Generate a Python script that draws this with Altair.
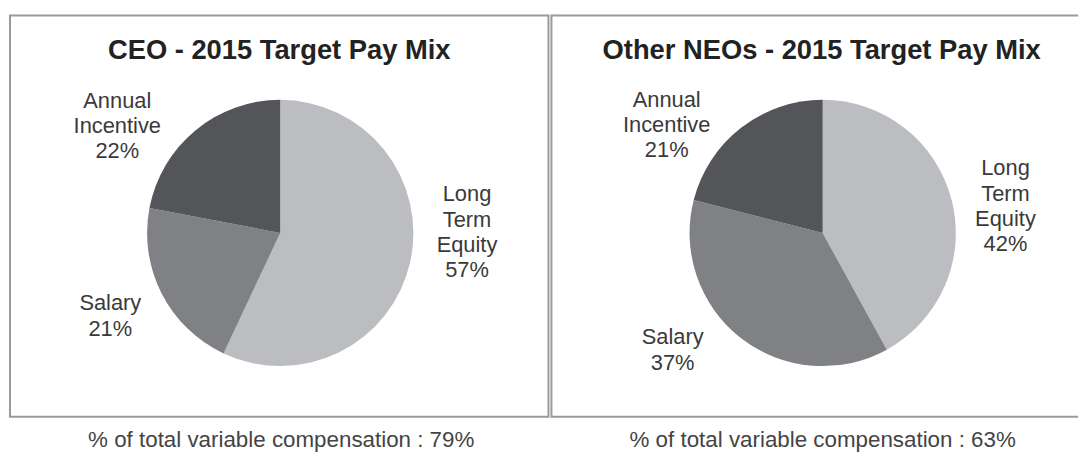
import altair as alt
import pandas as pd

# ---- data ----
categories = ["Long Term Equity", "Salary", "Annual Incentive"]
label_lines = [["Long", "Term", "Equity"], ["Salary"], ["Annual", "Incentive"]]
ceo_values = [57, 21, 22]
neo_values = [42, 37, 21]
panel_titles = ["CEO - 2015 Target Pay Mix", "Other NEOs - 2015 Target Pay Mix"]
captions = ["% of total variable compensation : 79%", "% of total variable compensation : 63%"]

colors = ["#bcbdc0", "#808185", "#545559"]
FONT = "Liberation Sans"
VIEW_W = [545, 531]
VIEW_H = 406
RADIUS = 134
BORDER = "#9a9a9a"

# label placement (style): first-line centers in view pixels
label_pos = [
    {"Long Term Equity": (461, 181), "Salary": (102, 291), "Annual Incentive": (109, 87)},
    {"Long Term Equity": (458, 155), "Salary": (123, 325), "Annual Incentive": (117, 86)},
]
pie_center = [(273, 220), (274, 220)]
title_x = [272, 273]


def border_layers(i, df):
    base = alt.Chart(df.head(1))
    if i == 0:
        return [base.mark_rect(fill="transparent", stroke=BORDER, strokeWidth=2).encode(
            x=alt.value(1), x2=alt.value(543), y=alt.value(1), y2=alt.value(405))]
    w = VIEW_W[i]
    return [
        base.mark_rule(stroke=BORDER, strokeWidth=2).encode(
            x=alt.value(1), x2=alt.value(w), y=alt.value(1)),
        base.mark_rule(stroke=BORDER, strokeWidth=2).encode(
            x=alt.value(1), x2=alt.value(w), y=alt.value(405)),
        base.mark_rule(stroke=BORDER, strokeWidth=2).encode(
            x=alt.value(1), y=alt.value(0), y2=alt.value(406)),
    ]


def panel(i, values):
    df = pd.DataFrame({
        "category": categories,
        "value": values,
        "idx": list(range(len(categories))),
        "label": ["\n".join(l + [f"{v}%"]) for l, v in zip(label_lines, values)],
    })
    cx, cy = pie_center[i]
    arc = alt.Chart(df).mark_arc(radius=RADIUS).encode(
        theta=alt.Theta("value:Q", stack=True),
        order=alt.Order("idx:Q"),
        color=alt.Color("category:N", scale=alt.Scale(domain=categories, range=colors), legend=None),
        x=alt.value(cx), y=alt.value(cy),
    )
    layers = border_layers(i, df) + [arc]
    for cat in categories:
        lx, ly = label_pos[i][cat]
        layers.append(
            alt.Chart(df).transform_filter(alt.datum.category == cat).mark_text(
                font=FONT, fontSize=22, lineHeight=25.5, lineBreak="\n",
                color="#3a3a3a", align="center", baseline="middle",
            ).encode(x=alt.value(lx), y=alt.value(ly), text="label:N")
        )
    tdf = pd.DataFrame({"t": [panel_titles[i]], "c": [captions[i]]})
    layers.append(
        alt.Chart(tdf).mark_text(font=FONT, fontSize=27.5, fontWeight="bold", color="#222222",
                                 align="center", baseline="alphabetic")
        .encode(x=alt.value(title_x[i]), y=alt.value(45), text="t:N")
    )
    layers.append(
        alt.Chart(tdf).mark_text(font=FONT, fontSize=22.5, color="#444444",
                                 align="center", baseline="middle")
        .encode(x=alt.value(pie_center[i][0] + (1 if i == 0 else 0)), y=alt.value(428), text="c:N")
    )
    return alt.layer(*layers).properties(
        width=VIEW_W[i], height=VIEW_H,
        view=alt.ViewBackground(stroke="transparent", strokeWidth=0),
    )


chart = alt.hconcat(panel(0, ceo_values), panel(1, neo_values), spacing=0).properties(
    padding={"left": 1, "top": 4, "right": 0, "bottom": 0}
).configure_view(strokeWidth=0, stroke="transparent").configure(font=FONT, background="white")

chart.save("out.html", embed_options={"renderer": "svg", "actions": False})
